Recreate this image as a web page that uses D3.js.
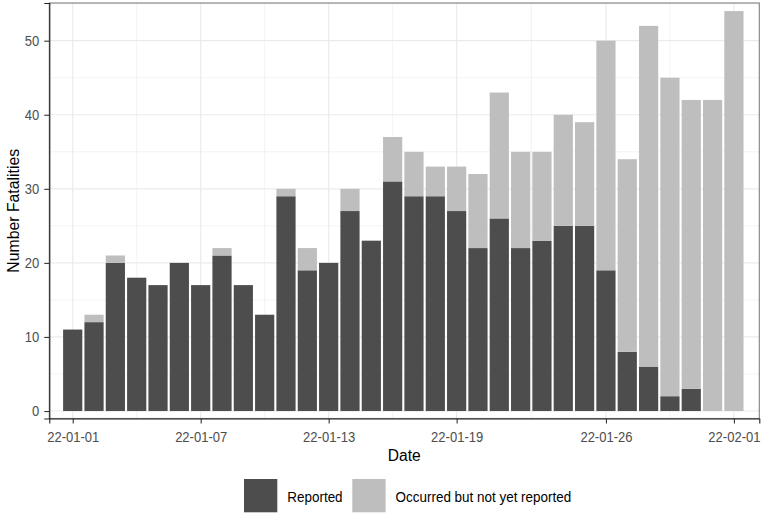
<!DOCTYPE html>
<html>
<head>
<meta charset="utf-8">
<script src="https://cdn.jsdelivr.net/npm/d3@7"></script>
<style>
  html, body { margin: 0; padding: 0; background: #fff; }
  svg { display: block; font-family: "Liberation Sans", Arial, sans-serif; }
</style>
</head>
<body>
<svg id="chart" width="763" height="515"></svg>
<script>
// ---- data ----
const dates = ["2022-01-01","2022-01-02","2022-01-03","2022-01-04","2022-01-05","2022-01-06","2022-01-07","2022-01-08",
  "2022-01-09","2022-01-10","2022-01-11","2022-01-12","2022-01-13","2022-01-14","2022-01-15","2022-01-16",
  "2022-01-17","2022-01-18","2022-01-19","2022-01-20","2022-01-21","2022-01-22","2022-01-23","2022-01-24",
  "2022-01-25","2022-01-26","2022-01-27","2022-01-28","2022-01-29","2022-01-30","2022-01-31","2022-02-01"];
const reported   = [11,12,20,18,17,20,17,21,17,13,29,19,20,27,23,31,29,29,27,22,26,22,23,25,25,19, 8, 6, 2, 3, 0, 0];
const notYetReported = [0, 1, 1, 0, 0, 0, 0, 1, 0, 0, 1, 3, 0, 3, 0, 6, 6, 4, 6,10,17,13,12,15,14,31,26,46,43,39,42,54];
const seriesNames = ["Reported", "Occurred but not yet reported"];
const xTickDates = ["2022-01-01","2022-01-07","2022-01-13","2022-01-19","2022-01-26","2022-02-01"];
const xMinorDates = ["2022-01-04","2022-01-10","2022-01-16","2022-01-22T12:00","2022-01-29"];
const yTicks = [0,10,20,30,40,50];
const yMinor = [5,15,25,35,45,55];

// ---- layout ----
const svg = d3.select("#chart");
const P = {left: 49.3, right: 759.3, top: 3, bottom: 418.5};
const colors = ["#4d4d4d", "#bebebe"];
const parse = s => new Date(s.length > 10 ? s + "Z" : s + "T00:00Z");
const DAY = 864e5;

const x = d3.scaleUtc()
  .domain([new Date(parse(dates[0]).getTime() - 1.097*DAY), new Date(parse(dates[dates.length-1]).getTime() + 1.19*DAY)])
  .range([P.left, P.right]);
const y = d3.scaleLinear().domain([-1.01, 55.09]).range([P.bottom, P.top]);
const bw = (x(parse(dates[1])) - x(parse(dates[0]))) * 0.9;

// narrow text helper: keeps glyph height of the font size but compresses width
function squeeze(sel, k) {
  sel.each(function() {
    const len = this.getComputedTextLength();
    d3.select(this).attr("textLength", len * k).attr("lengthAdjust", "spacingAndGlyphs");
  });
}

// grid
const grid = svg.append("g");
grid.selectAll(".ym").data(yMinor).join("line")
  .attr("x1", P.left).attr("x2", P.right).attr("y1", d => y(d)).attr("y2", d => y(d))
  .attr("stroke", "#ebebeb").attr("stroke-width", 0.6);
grid.selectAll(".xm").data(xMinorDates).join("line")
  .attr("y1", P.top).attr("y2", P.bottom).attr("x1", d => x(parse(d))).attr("x2", d => x(parse(d)))
  .attr("stroke", "#ebebeb").attr("stroke-width", 0.6);
grid.selectAll(".yM").data(yTicks).join("line")
  .attr("x1", P.left).attr("x2", P.right).attr("y1", d => y(d)).attr("y2", d => y(d))
  .attr("stroke", "#ebebeb").attr("stroke-width", 1.2);
grid.selectAll(".xM").data(xTickDates).join("line")
  .attr("y1", P.top).attr("y2", P.bottom).attr("x1", d => x(parse(d))).attr("x2", d => x(parse(d)))
  .attr("stroke", "#ebebeb").attr("stroke-width", 1.2);

// stacked bars
const rows = dates.map((d, i) => ({date: parse(d), [seriesNames[0]]: reported[i], [seriesNames[1]]: notYetReported[i]}));
const stack = d3.stack().keys(seriesNames)(rows);
svg.append("g").selectAll("g").data(stack).join("g")
  .attr("fill", (d, i) => colors[i])
  .selectAll("rect").data(d => d.filter(s => s[1] > s[0])).join("rect")
  .attr("x", d => x(d.data.date) - bw/2)
  .attr("width", bw)
  .attr("y", d => y(d[1]))
  .attr("height", d => y(d[0]) - y(d[1]));

// panel border
svg.append("rect").attr("x", P.left).attr("y", P.top)
  .attr("width", P.right - P.left).attr("height", P.bottom - P.top)
  .attr("fill", "none").attr("stroke", "#808080").attr("stroke-width", 1.1);

// axes
const xAxis = svg.append("g").attr("transform", `translate(0,${P.bottom})`)
  .call(d3.axisBottom(x).tickValues(xTickDates.map(parse)).tickFormat(d3.utcFormat("%y-%m-%d")).tickSize(5).tickPadding(8.5));
const yAxis = svg.append("g").attr("transform", `translate(${P.left},0)`)
  .call(d3.axisLeft(y).tickValues(yTicks).tickSize(5).tickPadding(5));
[xAxis, yAxis].forEach(a => {
  a.select(".domain").attr("stroke", "#222").attr("stroke-width", 1.1);
  a.selectAll(".tick line").attr("stroke", "#333").attr("stroke-width", 1.1);
  a.selectAll(".tick text").attr("fill", "#4d4d4d").attr("font-size", 14)
    .attr("font-family", "Liberation Sans, Arial, sans-serif")
    .call(squeeze, 0.93);
});

// axis titles
svg.append("text").attr("x", (P.left + P.right)/2).attr("y", 461)
  .attr("text-anchor", "middle").attr("font-size", 15.6).attr("fill", "#000").text("Date");
svg.append("text").attr("transform", `translate(19,${(P.top + P.bottom)/2}) rotate(-90)`)
  .attr("text-anchor", "middle").attr("font-size", 15.8).attr("fill", "#000").text("Number Fatalities");

// legend
const leg = svg.append("g");
const legX = [244, 352.3];
seriesNames.forEach((n, i) => {
  leg.append("rect").attr("x", legX[i]).attr("y", 479).attr("width", 33.3).attr("height", 33.3).attr("fill", colors[i]);
  leg.append("text").attr("x", legX[i] + 43.3).attr("y", 502.3).attr("font-size", 14).attr("fill", "#000").text(n)
    .call(squeeze, 0.96);
});
</script>
</body>
</html>
